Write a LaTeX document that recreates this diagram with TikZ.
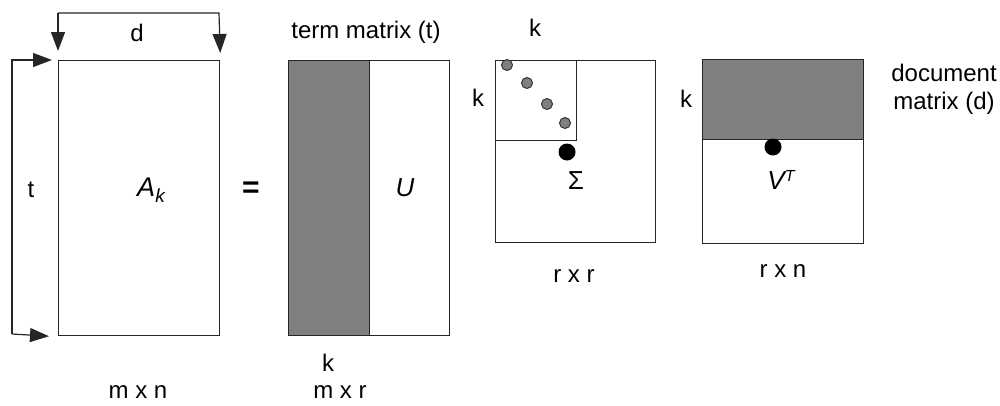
\documentclass[tikz,border=0pt]{standalone}
\usepackage{fontspec}
\setmainfont{Liberation Sans}
\usetikzlibrary{arrows.meta,calc}
\begin{document}
\begin{tikzpicture}[x=1pt,y=-1pt,
  every node/.style={font=\fontsize{24}{28}\selectfont},
  big/.style={font=\fontsize{26}{30}\selectfont},
  mat/.style={draw=black!85,line width=1.2pt,rectangle,inner sep=0pt,anchor=north west},
  shade/.style={mat,fill=black!50},
  lbl/.style={inner sep=0pt},
  arr/.style={draw=black!85,line width=1.2pt,-{Triangle[length=19pt,width=14pt]}},
  gdot/.style={circle,draw=black!80,fill=black!50,line width=1pt,minimum size=11pt,inner sep=0pt},
  bdot/.style={circle,fill=black,minimum size=17pt,inner sep=0pt}]
\useasboundingbox (0,0) rectangle (1000,405);
% A_k
\node[mat,minimum width=161pt,minimum height=275pt] (A) at (58,60) {};
\node[lbl,big] (Alab) at (151,190) {\itshape\fontsize{27}{30}\selectfont A\raisebox{-6pt}{\fontsize{19}{20}\selectfont k}};
\coordinate (tl) at (58,13);
\coordinate (tr) at (219,13);
\draw[arr] (tl) -- ($(A.north west)+(0,-9)$);
\draw[arr] (tl) -- (tr) -- ($(A.north east)+(0,-7)$);
\node[lbl] (dlab) at (137,33) {d};
\coordinate (lt) at (12,60);
\coordinate (lb) at (12,334);
\draw[arr] (lb) -- (lt) -- ($(A.north west)+(-6,0)$);
\draw[arr] (lb) -- ($(A.south west)+(-9,0)$);
\node[lbl] (tlab) at (31,190) {t};
\node[lbl] (mn) at (138,392) {m x n};
\node[lbl] (eq) at (251,190) {\fontsize{30}{30}\selectfont\bfseries =};
% U
\node[shade,minimum width=81pt,minimum height=275pt] (Uk) at (288,60) {};
\node[mat,minimum width=161pt,minimum height=275pt] (U) at (288,60) {};
\node[lbl,big] (Ulab) at (405,188) {\itshape U};
\node[lbl] (tm) at (366,32) {term matrix (t)};
\node[lbl] (kU) at (328,363) {k};
\node[lbl] (mr) at (340,392) {m x r};
% Sigma
\node[mat,minimum width=160pt,minimum height=182pt] (S) at (495,60) {};
\node[mat,minimum width=81pt,minimum height=80pt] (Sk) at (495,60) {};
\node[gdot] (g1) at (507,65) {};
\node[gdot] (g2) at (527,83) {};
\node[gdot] (g3) at (547,104) {};
\node[gdot] (g4) at (565,123) {};
\node[bdot] (sd) at (567,152) {};
\node[lbl,big] (Slab) at (576,181) {Σ};
\node[lbl] (kS1) at (535,28) {k};
\node[lbl] (kS2) at (478,98) {k};
\node[lbl] (rr) at (574,276) {r x r};
% V^T
\node[shade,minimum width=161pt,minimum height=80pt] (Vk) at (702,59) {};
\node[mat,minimum width=161pt,minimum height=184pt] (V) at (702,59) {};
\node[bdot] (vd) at (773,147) {};
\node[lbl,big] (Vlab) at (781,180) {\itshape V\raisebox{8pt}{\fontsize{16}{18}\selectfont T}};
\node[lbl] (kV) at (686,99) {k};
\node[lbl,align=center] (dm) at (944,89) {document\\matrix (d)};
\node[lbl] (rn) at (783,271) {r x n};
\end{tikzpicture}
\end{document}
